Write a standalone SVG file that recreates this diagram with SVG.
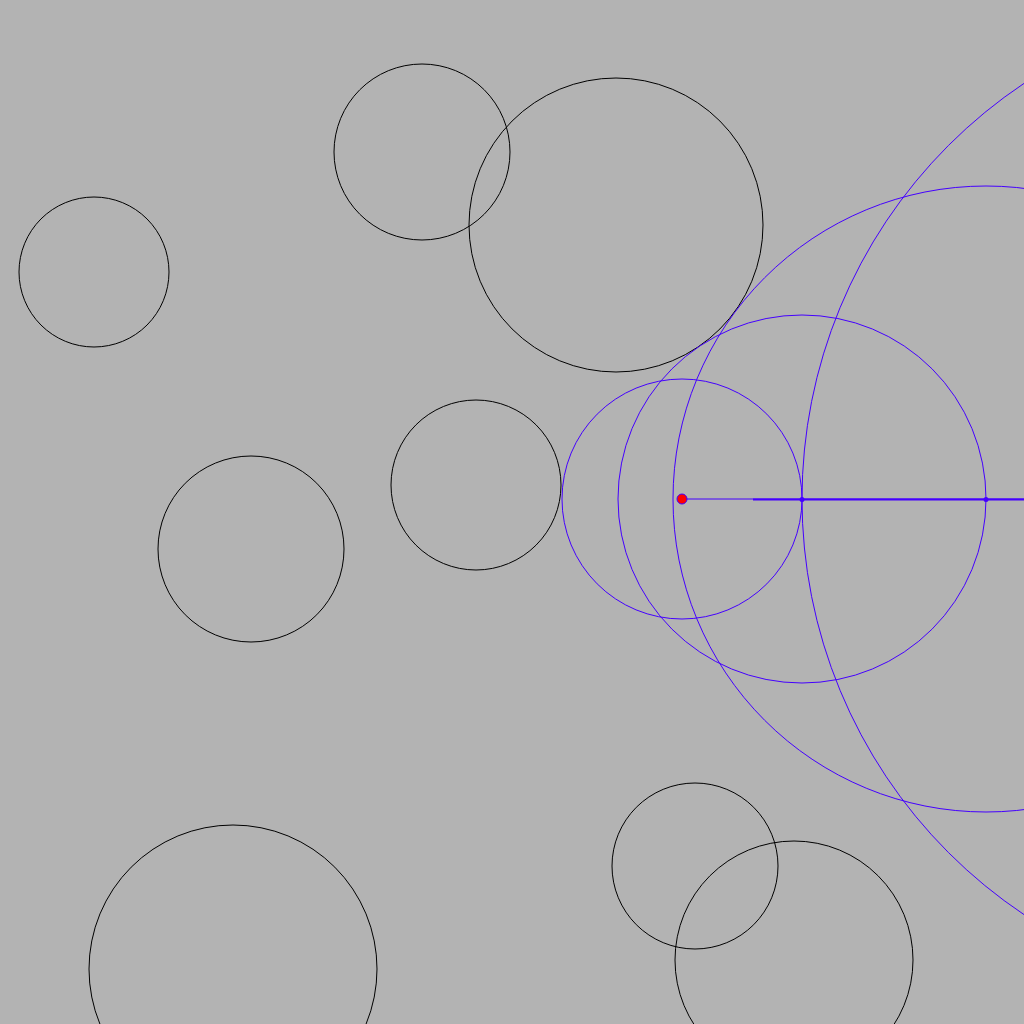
<svg xmlns="http://www.w3.org/2000/svg" width="1024" height="1024" viewBox="0 0 1024 1024">
<style>
.obs{fill:none;stroke:#000;stroke-width:1}
.step{fill:none;stroke:#4400ff;stroke-width:1}
.pt{fill:#4400ff;stroke:none}
</style>
<rect width="1024" height="1024" fill="#b3b3b3"/>
<g id="obstacles">
<circle id="c1" class="obs" cx="422" cy="152" r="88"/>
<circle id="c2" class="obs" cx="616" cy="225" r="147"/>
<circle id="c3" class="obs" cx="94" cy="272" r="75"/>
<circle id="c4" class="obs" cx="476" cy="485" r="85"/>
<circle id="c5" class="obs" cx="251" cy="549" r="93"/>
<circle id="c6" class="obs" cx="695" cy="866" r="83"/>
<circle id="c7" class="obs" cx="794" cy="960" r="119"/>
<circle id="c8" class="obs" cx="233" cy="969" r="144"/>
</g>
<g id="steps">
<circle class="step" cx="682" cy="499" r="120"/>
<circle class="step" cx="802" cy="499" r="184"/>
<circle class="step" cx="986" cy="499" r="313"/>
<circle class="step" cx="1302" cy="499" r="500"/>
</g>
<g id="connectors">
<line x1="682" y1="499" x2="1024" y2="499" stroke="#4400ff" stroke-width="1"/>
<line x1="753" y1="499.5" x2="1024" y2="499.5" stroke="#4400ff" stroke-width="2"/>
</g>
<g id="points">
<circle class="pt" cx="802" cy="499.5" r="2.5"/>
<circle class="pt" cx="986" cy="499.5" r="2.5"/>
<circle id="origin" cx="682" cy="499" r="5" fill="#ff0000" stroke="#4400ff" stroke-width="1"/>
</g>
</svg>
